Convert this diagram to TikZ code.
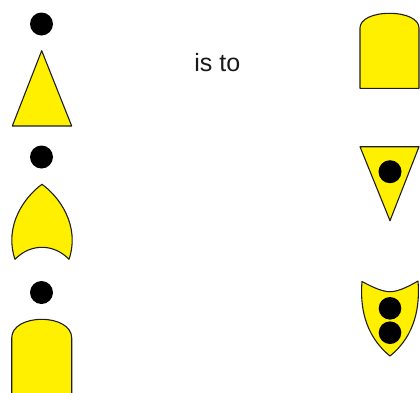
\documentclass[tikz,border=0pt]{standalone}
\usepackage{fontspec}
\setmainfont{Liberation Sans}
\definecolor{shapeyellow}{RGB}{255,240,0}
\definecolor{edgegray}{RGB}{30,30,30}
\begin{document}
\begin{tikzpicture}[x=1pt,y=-1pt,
  shp/.style={fill=shapeyellow,draw=edgegray,line width=1.1pt,line join=round},
  blob/.style={fill=black}]
\useasboundingbox (0,0) rectangle (420,392);
\begin{scope}
\clip (0,0) rectangle (420,392);
% left column
\fill[blob] (41.5,24) circle (11.5pt);
\draw[shp] (41.7,50.7) -- (71.7,126) -- (12.3,126) -- cycle;
\fill[blob] (41.5,157) circle (11.5pt);
\draw[shp] (42,184.3) .. controls (58.5,196) and (80.5,225) .. (69,259.3)
  .. controls (60,250) and (50,247.3) .. (42,247.3)
  .. controls (34,247.3) and (24,250) .. (15,259.3)
  .. controls (3.5,225) and (25.5,196) .. (42,184.3) -- cycle;
\fill[blob] (41.5,292.5) circle (11.5pt);
\draw[shp] (11.7,400) -- (11.7,338) .. controls (11.7,326) and (26,319.3) .. (41.7,319.3)
  .. controls (57.4,319.3) and (71.7,326) .. (71.7,338) -- (71.7,400);
% right column
\draw[shp] (360,88.3) -- (360,28) .. controls (360,19) and (373,13.3) .. (389.5,13.3)
  .. controls (406,13.3) and (419,19) .. (419,28) -- (419,88.3) -- cycle;
\draw[shp] (360,146.7) -- (419,146.7) -- (390,220.7) -- cycle;
\fill[blob] (390,171.7) circle (11.5pt);
\draw[shp] (362,281.5) .. controls (374,288) and (383,291.7) .. (390,291.7)
  .. controls (397,291.7) and (406,288) .. (418,281)
  .. controls (420,305) and (416,335) .. (390,356)
  .. controls (364,335) and (360,305) .. (362,281.5) -- cycle;
\fill[blob] (390,308.3) circle (11.3pt);
\fill[blob] (390,332.7) circle (11.3pt);
\end{scope}
\node[font=\fontsize{25}{30}\selectfont,text=black!90,inner sep=0pt] (isto) at (217.3,62.7) {is to};
\end{tikzpicture}
\end{document}
